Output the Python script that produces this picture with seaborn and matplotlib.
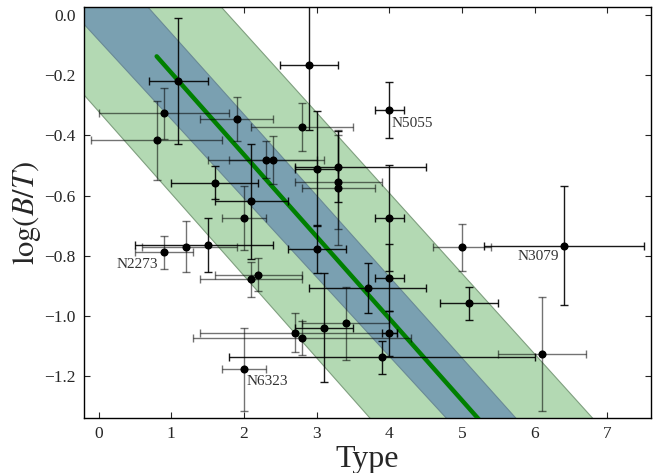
import numpy as np
import pandas as pd
import matplotlib
matplotlib.use("Agg")
import matplotlib.pyplot as plt
import seaborn as sns

# Morphological type vs log(B/T)
galaxy_type = [1.1, 0.9, 0.8, 1.9, 2.9, 4.0, 2.8, 2.3, 2.4, 3.0, 3.3, 3.3,
               3.3, 1.6, 2.1, 2.0, 0.9, 1.2, 1.5, 2.1, 2.2, 2.0, 2.7, 2.8,
               3.1, 3.4, 4.0, 3.9, 6.1, 3.7, 3.0, 4.0, 4.0, 5.0, 6.4, 5.1]
log_bt = [-0.220, -0.327, -0.417, -0.347, -0.167, -0.316, -0.373, -0.481,
          -0.483, -0.511, -0.504, -0.556, -0.574, -0.558, -0.619, -0.674,
          -0.789, -0.770, -0.764, -0.878, -0.863, -1.177, -1.055, -1.072,
          -1.038, -1.024, -1.057, -1.136, -1.126, -0.907, -0.777, -0.675,
          -0.872, -0.772, -0.766, -0.957]
type_err_lo = [0.4, 0.9, 0.9, 0.5, 0.4, 0.2, 0.7, 0.8, 0.6, 0.3, 0.6, 0.6,
               0.5, 0.6, 0.5, 0.3, 0.4, 0.6, 1.0, 0.7, 0.6, 0.3, 1.3, 1.5,
               0.4, 0.6, 0.1, 2.1, 0.6, 0.8, 0.4, 0.2, 0.2, 0.4, 1.1, 0.4]
type_err_hi = [0.4, 0.9, 0.9, 0.5, 0.4, 0.2, 0.7, 0.8, 0.6, 0.3, 1.2, 0.6,
               0.5, 0.6, 0.5, 0.3, 0.4, 0.7, 0.9, 0.7, 0.6, 0.3, 1.4, 1.5,
               0.4, 0.6, 0.1, 2.1, 0.6, 0.8, 0.4, 0.2, 0.2, 0.4, 1.1, 0.4]
log_bt_err = [0.210, 0.085, 0.130, 0.073, 0.215, 0.093, 0.080, 0.061,
              0.080, 0.190, 0.118, 0.156, 0.190, 0.055, 0.190, 0.107,
              0.055, 0.085, 0.090, 0.057, 0.055, 0.138, 0.064, 0.057,
              0.180, 0.120, 0.075, 0.055, 0.188, 0.082, 0.080, 0.177,
              0.110, 0.078, 0.198, 0.055]

# labelled galaxies (index into the arrays above)
label_names = ["N5055", "N2273", "N6323", "N3079"]
label_index = [5, 16, 21, 34]

# linear fit (intercept, slope) and the edges of its two bands
fit_line = (0.079, -0.2717)
fit_type_range = [0.8, 5.3]
inner_upper = (0.208, -0.2694)
inner_lower = (-0.084, -0.2622)
outer_upper = (0.476, -0.2670)
outer_lower = (-0.3205, -0.2726)

df = pd.DataFrame({"type": galaxy_type, "logbt": log_bt,
                   "xlo": type_err_lo, "xhi": type_err_hi, "yerr": log_bt_err})

sns.set_style("ticks")
plt.rcParams["font.family"] = ["Liberation Serif", "DejaVu Serif"]
plt.rcParams["mathtext.fontset"] = "stix"

fig = plt.figure(figsize=(6.68, 4.73), dpi=100)
ax = fig.add_subplot(111)
fig.subplots_adjust(left=0.1257, right=0.9746, top=0.985, bottom=0.1163)

xlim = (-0.2, 7.6)
ylim = (-1.338, 0.025)


def edge(p, x):
    return p[0] + p[1] * x


# bands
xx = np.linspace(xlim[0], xlim[1], 200)
ax.fill_between(xx, edge(outer_lower, xx), edge(outer_upper, xx), color="#b3d9b3",
                edgecolor="#7f9f7f", linewidth=0.8, zorder=1)
ax.fill_between(xx, edge(inner_lower, xx), edge(inner_upper, xx), color="#7aa0b1",
                edgecolor="#6a8a96", linewidth=0.8, zorder=2)

# fit line
line_x = np.linspace(fit_type_range[0], fit_type_range[1], 50)
fit_df = pd.DataFrame({"type": line_x, "logbt": edge(fit_line, line_x)})
sns.lineplot(data=fit_df, x="type", y="logbt", color="green", linewidth=3.2,
             ax=ax, zorder=3)

# error bars, some appear lighter in the original
faded = {1, 2, 3, 6, 7, 8, 11, 12, 15, 16, 17, 19, 20, 21, 22, 23, 25, 28, 33}
for i, row in df.iterrows():
    ax.errorbar(row["type"], row["logbt"],
                xerr=[[row["xlo"]], [row["xhi"]]], yerr=row["yerr"],
                fmt="none", ecolor="black", elinewidth=1.0, capsize=2.8,
                capthick=1.0, alpha=0.55 if i in faded else 0.9, zorder=4)

sns.scatterplot(data=df, x="type", y="logbt", color="black", s=34,
                edgecolor="black", linewidth=0, ax=ax, zorder=5)

# galaxy labels
offsets = {"N5055": (0.03, -0.025, "left"), "N2273": (-0.08, -0.018, "right"),
           "N6323": (0.03, -0.02, "left"), "N3079": (-0.06, -0.014, "right")}
for name, idx in zip(label_names, label_index):
    dx, dy, ha = offsets[name]
    ax.text(galaxy_type[idx] + dx, log_bt[idx] + dy, name, ha=ha, va="top",
            fontsize=11, color="#333333", zorder=6)

ax.set_xlim(xlim)
ax.set_ylim(ylim)
ax.set_xticks(range(0, 8))
ax.set_yticks([0.0, -0.2, -0.4, -0.6, -0.8, -1.0, -1.2])
ax.set_yticklabels(["0.0", "\u22120.2", "\u22120.4", "\u22120.6", "\u22120.8",
                    "\u22121.0", "\u22121.2"])
ax.tick_params(direction="in", top=True, right=True, length=4.5, width=0.8,
               labelsize=12.5, pad=6)
for s in ax.spines.values():
    s.set_linewidth(1.0)
    s.set_color("black")

ax.set_xlabel("Type", fontsize=23, labelpad=2)
ax.set_ylabel(r"$\log(B/T)$", fontsize=22, labelpad=1)

fig.savefig("out.png", dpi=100)
